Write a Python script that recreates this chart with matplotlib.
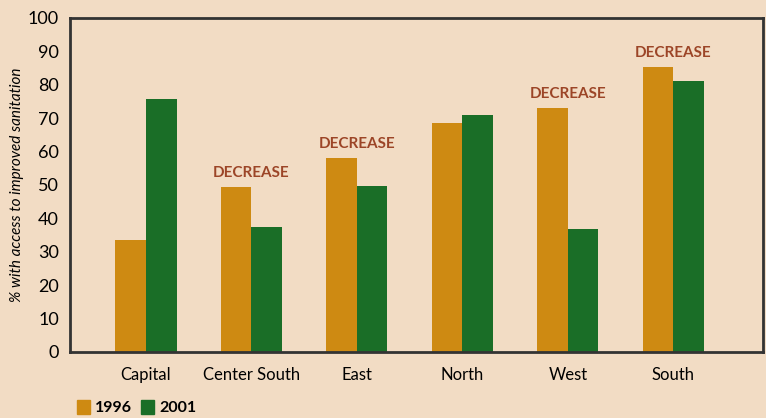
import numpy as np
import matplotlib.pyplot as plt
from matplotlib.patches import Patch

# Regions and % with access to improved sanitation
regions = ['Capital', 'Center South', 'East', 'North', 'West', 'South']
vals_1996 = [33.5, 49.4, 58.1, 68.6, 73.1, 85.3]
vals_2001 = [75.7, 37.4, 49.7, 71.0, 36.8, 81.1]
decrease = [False, True, True, False, True, True]

bg = '#F2DCC4'
c96 = '#CE8A12'
c01 = '#1A6E27'
red = '#9C4527'

plt.rcParams['font.family'] = ['Lato', 'DejaVu Sans']

fig = plt.figure(figsize=(7.66, 4.18), dpi=100, facecolor=bg)
ax = fig.add_axes([0.0914, 0.158, 0.9046, 0.799])
ax.set_facecolor(bg)

x = np.arange(len(regions))
w = 0.29
ax.bar(x - w / 2, vals_1996, width=w, color=c96)
ax.bar(x + w / 2, vals_2001, width=w, color=c01)

for i, d in enumerate(decrease):
    if d:
        ax.text(x[i], max(vals_1996[i], vals_2001[i]) + 2.0, 'DECREASE',
                ha='center', va='bottom', color=red, fontsize=11, fontweight='bold')

ax.set_xlim(-0.72, 5.85)
ax.set_ylim(0, 100)
ax.set_yticks(range(0, 101, 10))
ax.set_xticks(x)
ax.set_xticklabels(regions, fontsize=12)
ax.tick_params(axis='y', labelsize=13, length=0, pad=8)
ax.tick_params(axis='x', length=0, pad=11)
ax.set_ylabel('% with access to improved sanitation', fontsize=11, style='italic', labelpad=3)

for s in ax.spines.values():
    s.set_color('#333333')
    s.set_linewidth(2)

handles = [Patch(color=c96, label='1996'), Patch(color=c01, label='2001')]
fig.legend(handles=handles, loc='center left', bbox_to_anchor=(0.082, 0.025), ncol=2,
           frameon=False, handlelength=0.8, handleheight=1.0, handletextpad=0.3,
           columnspacing=0.6, prop={'size': 11.5, 'weight': 'bold'})

fig.savefig('out.png', dpi=100, facecolor=bg)
